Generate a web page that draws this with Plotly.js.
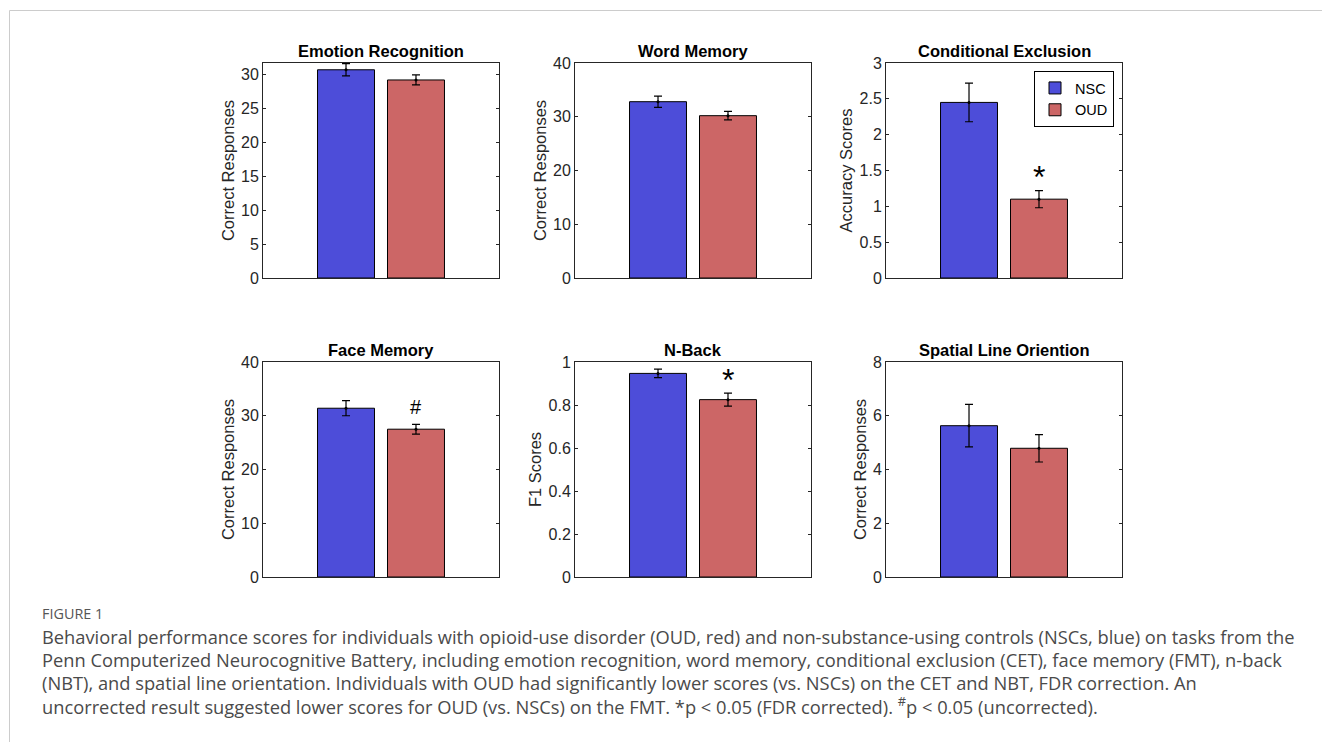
<!DOCTYPE html>
<html>
<head>
<meta charset="utf-8">
<script src="https://cdn.plot.ly/plotly-3.0.1.min.js"></script>
<style>html,body{margin:0;padding:0;background:#fff;}#chart{width:1322px;height:742px;}</style>
</head>
<body>
<div id="chart"></div>
<script>
// ---- data ----
const groups = ['NSC', 'OUD'];
const panelTitles = ['Emotion Recognition', 'Word Memory', 'Conditional Exclusion',
                     'Face Memory', 'N-Back', 'Spatial Line Oriention'];
const yTitles = ['Correct Responses', 'Correct Responses', 'Accuracy Scores',
                 'Correct Responses', 'F1 Scores', 'Correct Responses'];
const nscMean = [30.7, 32.8, 2.45, 31.4, 0.947, 5.63];
const nscErr  = [0.9, 1.05, 0.27, 1.4, 0.02, 0.79];
const oudMean = [29.2, 30.2, 1.10, 27.5, 0.825, 4.79];
const oudErr  = [0.74, 0.8, 0.12, 0.9, 0.03, 0.51];
const sigMark = ['', '', '*', '#', '*', ''];
const yMax    = [31.7, 40, 3, 40, 1, 8];
const yDtick  = [5, 10, 0.5, 10, 0.2, 2];
const captionHead = 'FIGURE 1';
const captionLines = [
  'Behavioral performance scores for individuals with opioid-use disorder (OUD, red) and non-substance-using controls (NSCs, blue) on tasks from the',
  'Penn Computerized Neurocognitive Battery, including emotion recognition, word memory, conditional exclusion (CET), face memory (FMT), n-back',
  '(NBT), and spatial line orientation. Individuals with OUD had significantly lower scores (vs. NSCs) on the CET and NBT, FDR correction. An',
  'uncorrected result suggested lower scores for OUD (vs. NSCs) on the FMT. *p &lt; 0.05 (FDR corrected). <sup>#</sup>p &lt; 0.05 (uncorrected).'
];

// ---- styling / layout ----
const W = 1322, H = 742;
const colors = ['rgb(77,77,217)', 'rgb(204,102,102)'];
const colX = [[263, 499], [575, 811], [886, 1122]];
const rowY = [[63, 278], [362, 577]];
const axisCol = '#262626';
const font = 'Liberation Sans, Arial, Helvetica, sans-serif';
const capFont = 'Open Sans, Noto Sans, sans-serif';

const traces = [];
const layout = {
  width: W, height: H,
  margin: {l: 0, r: 0, t: 0, b: 0},
  paper_bgcolor: '#fff', plot_bgcolor: '#fff',
  barmode: 'overlay',
  showlegend: true,
  legend: {
    x: 1114 / W, xanchor: 'right', y: 1 - 71 / H, yanchor: 'top',
    bordercolor: '#000', borderwidth: 1, bgcolor: '#fff',
    font: {family: font, size: 14.5, color: '#000'},
    tracegroupgap: 0, itemwidth: 30
  },
  annotations: [],
  shapes: [
    {type: 'line', xref: 'paper', yref: 'paper', x0: 9.5 / W, x1: 1, y0: 1 - 10.5 / H, y1: 1 - 10.5 / H, line: {color: '#cccccc', width: 1}},
    {type: 'line', xref: 'paper', yref: 'paper', x0: 9.5 / W, x1: 9.5 / W, y0: 0, y1: 1 - 10.5 / H, line: {color: '#cccccc', width: 1}}
  ]
};

for (let i = 0; i < 6; i++) {
  const r = Math.floor(i / 3), c = i % 3;
  const n = i + 1;
  const xa = 'x' + (n === 1 ? '' : n), ya = 'y' + (n === 1 ? '' : n);
  const xKey = 'xaxis' + (n === 1 ? '' : n), yKey = 'yaxis' + (n === 1 ? '' : n);
  const means = [nscMean[i], oudMean[i]];
  const errs = [nscErr[i], oudErr[i]];
  for (let g = 0; g < 2; g++) {
    traces.push({
      type: 'bar', x: [groups[g]], y: [means[g]], xaxis: xa, yaxis: ya,
      name: groups[g], width: 0.814,
      marker: {color: colors[g], line: {color: '#000', width: 1}},
      showlegend: i === 2, legendgroup: groups[g], hoverinfo: 'skip'
    });
  }
  traces.push({
    type: 'scatter', mode: 'markers', x: groups, y: means, xaxis: xa, yaxis: ya,
    marker: {color: '#000', size: 3},
    error_y: {type: 'data', array: errs, visible: true, color: '#000', thickness: 1.2, width: 4},
    showlegend: false, hoverinfo: 'skip'
  });
  layout[xKey] = {
    domain: [colX[c][0] / W, colX[c][1] / W],
    anchor: ya, type: 'category', range: [-1.186, 2.186],
    showticklabels: false, ticks: '', showgrid: false, zeroline: false,
    showline: true, mirror: true, linecolor: axisCol, linewidth: 1, fixedrange: true
  };
  layout[yKey] = {
    domain: [1 - rowY[r][1] / H, 1 - rowY[r][0] / H],
    anchor: xa, range: [0, yMax[i]], dtick: yDtick[i], tick0: 0,
    ticks: 'inside', ticklen: 3, tickcolor: axisCol, mirror: 'ticks',
    showline: true, linecolor: axisCol, linewidth: 1,
    showgrid: false, zeroline: false, automargin: false,
    tickfont: {family: font, size: 16, color: axisCol},
    title: {text: yTitles[i], font: {family: font, size: 16.5, color: axisCol}, standoff: 2},
    fixedrange: true
  };
  // subplot title
  layout.annotations.push({
    xref: 'paper', yref: 'paper',
    x: (colX[c][0] + colX[c][1]) / 2 / W, y: 1 - (rowY[r][0] - 1) / H,
    xanchor: 'center', yanchor: 'bottom', showarrow: false,
    text: '<b>' + panelTitles[i] + '</b>',
    font: {family: font, size: 16.5, color: '#000'}
  });
  // significance marker
  if (sigMark[i]) {
    const isStar = sigMark[i] === '*';
    layout.annotations.push({
      xref: xa, yref: ya, x: groups[1], y: oudMean[i] + oudErr[i] + 0.08 * yMax[i],
      xanchor: 'center', yanchor: 'middle', showarrow: false,
      yshift: isStar ? -4 : 0,
      text: sigMark[i],
      font: {family: font, size: isStar ? 32 : 20, color: '#000'}
    });
  }
}

// caption
layout.annotations.push({
  xref: 'paper', yref: 'paper', x: 40 / W, y: 1 - 613 / H,
  xanchor: 'left', yanchor: 'middle', showarrow: false, align: 'left',
  text: captionHead, font: {family: capFont, size: 14.4, color: '#555'}
});
captionLines.forEach((t, k) => {
  layout.annotations.push({
    xref: 'paper', yref: 'paper', x: 40 / W, y: 1 - (636 + 23 * k) / H,
    xanchor: 'left', yanchor: 'middle', showarrow: false, align: 'left',
    text: t, font: {family: capFont, size: 18.3, color: '#4a4a4a'}
  });
});

Plotly.newPlot('chart', traces, layout, {displayModeBar: false, staticPlot: true});
</script>
</body>
</html>
